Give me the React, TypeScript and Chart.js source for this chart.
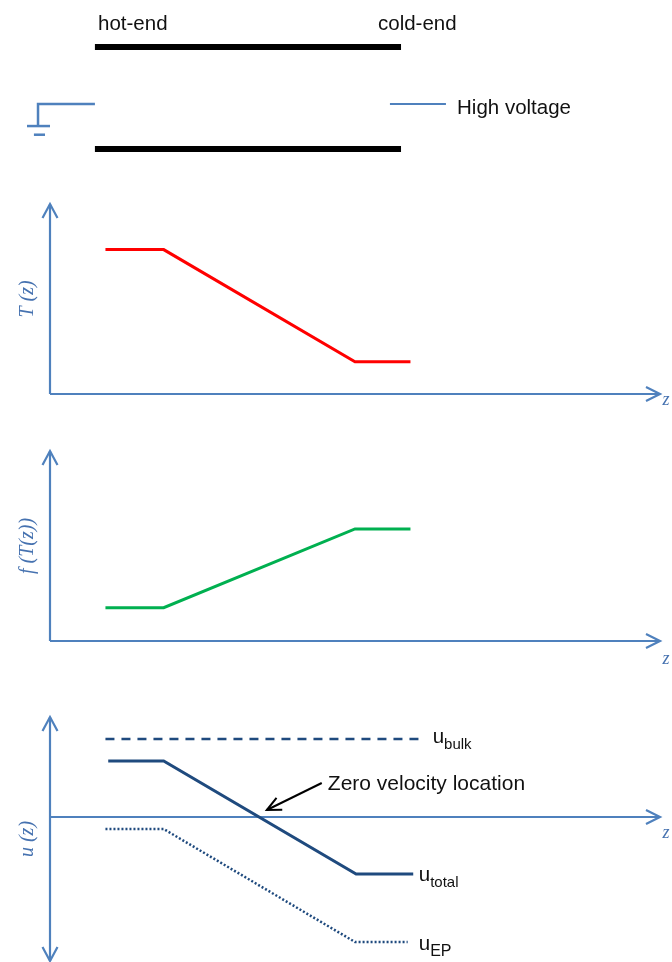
import React, { useEffect, useRef } from "react";
import { Chart, registerables } from "chart.js";

Chart.register(...registerables);

const AXIS_COLOR = "#4F81BD";
const LABEL_COLOR = "#4672B0";
const U_COLOR = "#1F4A7E";
const SANS = '"Liberation Sans", Arial, sans-serif';
const SERIF = '"Liberation Serif", "Times New Roman", serif';

// shared position axis z
const zAxisMax = 11;

// T(z)
const tempZ = [1, 2.05, 5.5, 6.5];
const tempValues = [7.6, 7.6, 1.7, 1.7];

// f(T(z))
const fZ = [1, 2.05, 5.5, 6.5];
const fValues = [1.75, 1.75, 5.9, 5.9];

// u(z)
const uBulkZ = [1, 6.7];
const uBulkValues = [3.9, 3.9];
const uTotalZ = [1.05, 2.05, 5.52, 6.55];
const uTotalValues = [2.8, 2.8, -2.85, -2.85];
const uEpZ = [1, 2.05, 5.5, 6.45];
const uEpValues = [-0.6, -0.6, -6.25, -6.25];
const zeroPointerZ = [4.9, 3.91];
const zeroPointerU = [1.7, 0.35];

// channel schematic (wall = 1 top, 0 bottom)
const wallZ = [0.81, 6.33];
const topWallY = [1, 1];
const bottomWallY = [0, 0];
const groundWireZ = [0.81, -0.216, -0.216];
const groundWireY = [0.441, 0.441, 0.225];
const groundPlateZ = [-0.415, 0];
const groundPlateY = [0.225, 0.225];
const groundPlate2Z = [-0.29, -0.09];
const groundPlate2Y = [0.14, 0.14];
const hvWireZ = [6.13, 7.14];
const hvWireY = [0.441, 0.441];

type Txt = {
  text: string;
  z: number;
  v: number;
  size: number;
  color: string;
  sub?: string;
  subSize?: number;
};

type Spec = {
  top: number;
  height: number;
  padTop: number;
  padBottom: number;
  yMin: number;
  yMax: number;
  datasets: any[];
  axes: "none" | "xy" | "xyBoth";
  yLabel?: string;
  zLabelDy?: number;
  texts: Txt[];
  pointer?: boolean;
};

function pts(xs: number[], ys: number[]) {
  return xs.map((x, i) => ({ x, y: ys[i] }));
}

function lineDs(xs: number[], ys: number[], color: string, width: number, dash: number[] = []) {
  return {
    data: pts(xs, ys),
    borderColor: color,
    backgroundColor: color,
    borderWidth: width,
    borderDash: dash,
    pointRadius: 0,
    fill: false,
    tension: 0,
    clip: false,
    borderCapStyle: "butt",
    borderJoinStyle: "miter",
  };
}

function arrowHead(ctx: CanvasRenderingContext2D, tx: number, ty: number, dx: number, dy: number, len: number, half: number) {
  const px = -dy;
  const py = dx;
  ctx.beginPath();
  ctx.moveTo(tx - dx * len + px * half, ty - dy * len + py * half);
  ctx.lineTo(tx, ty);
  ctx.lineTo(tx - dx * len - px * half, ty - dy * len - py * half);
  ctx.stroke();
}

function makeOverlay(spec: Spec) {
  return {
    id: "overlay",
    beforeDatasetsDraw(chart: any) {
      if (spec.axes === "none") return;
      const ctx: CanvasRenderingContext2D = chart.ctx;
      const xs = chart.scales.x;
      const ys = chart.scales.y;
      const x0 = xs.getPixelForValue(0);
      const x1 = xs.getPixelForValue(zAxisMax);
      const yZero = ys.getPixelForValue(0);
      const yTop = ys.getPixelForValue(spec.yMax);
      const yBot = ys.getPixelForValue(spec.yMin);
      ctx.save();
      ctx.strokeStyle = AXIS_COLOR;
      ctx.lineWidth = 2.2;
      ctx.lineCap = "butt";
      ctx.lineJoin = "miter";
      ctx.beginPath();
      ctx.moveTo(x0, yZero);
      ctx.lineTo(x1, yZero);
      ctx.stroke();
      arrowHead(ctx, x1, yZero, 1, 0, 14, 7);
      ctx.beginPath();
      ctx.moveTo(x0, yBot);
      ctx.lineTo(x0, yTop);
      ctx.stroke();
      arrowHead(ctx, x0, yTop, 0, -1, 14, 7.5);
      if (spec.axes === "xyBoth") arrowHead(ctx, x0, yBot, 0, 1, 14, 7.5);
      // labels
      ctx.fillStyle = LABEL_COLOR;
      ctx.font = `italic 18px ${SERIF}`;
      ctx.textAlign = "center";
      ctx.textBaseline = "middle";
      ctx.fillText("z", x1 + 6, yZero + (spec.zLabelDy || 6));
      if (spec.yLabel) {
        ctx.save();
        ctx.translate(x0 - 17, (yTop + yBot) / 2);
        ctx.rotate(-Math.PI / 2);
        ctx.font = `italic 20px ${SERIF}`;
        ctx.textBaseline = "alphabetic";
        ctx.fillText(spec.yLabel, 0, 0);
        ctx.restore();
      }
      ctx.restore();
    },
    afterDatasetsDraw(chart: any) {
      const ctx: CanvasRenderingContext2D = chart.ctx;
      const xs = chart.scales.x;
      const ys = chart.scales.y;
      ctx.save();
      ctx.textAlign = "left";
      ctx.textBaseline = "alphabetic";
      for (const t of spec.texts) {
        const px = xs.getPixelForValue(t.z);
        const py = ys.getPixelForValue(t.v);
        ctx.fillStyle = t.color;
        ctx.font = `${t.size}px ${SANS}`;
        ctx.fillText(t.text, px, py);
        if (t.sub) {
          const w = ctx.measureText(t.text).width;
          ctx.font = `${t.subSize || 15}px ${SANS}`;
          ctx.fillText(t.sub, px + w, py + 6);
        }
      }
      if (spec.pointer) {
        const sx = xs.getPixelForValue(zeroPointerZ[0]);
        const sy = ys.getPixelForValue(zeroPointerU[0]);
        const tx = xs.getPixelForValue(zeroPointerZ[1]);
        const ty = ys.getPixelForValue(zeroPointerU[1]);
        const L = Math.hypot(tx - sx, ty - sy);
        ctx.strokeStyle = "#000000";
        ctx.lineWidth = 2;
        arrowHead(ctx, tx, ty, (tx - sx) / L, (ty - sy) / L, 14, 6.5);
      }
      ctx.restore();
    },
  };
}

const specs: Spec[] = [
  {
    top: 0,
    height: 180,
    padTop: 47,
    padBottom: 31,
    yMin: 0,
    yMax: 1,
    axes: "none",
    datasets: [
      lineDs(wallZ, topWallY, "#000000", 6),
      lineDs(wallZ, bottomWallY, "#000000", 6),
      lineDs(groundWireZ, groundWireY, AXIS_COLOR, 2.5),
      lineDs(groundPlateZ, groundPlateY, AXIS_COLOR, 2.5),
      lineDs(groundPlate2Z, groundPlate2Y, AXIS_COLOR, 2.5),
      lineDs(hvWireZ, hvWireY, AXIS_COLOR, 2),
    ],
    texts: [
      { text: "hot-end", z: 0.866, v: 1.167, size: 20.5, color: "#111111" },
      { text: "cold-end", z: 5.915, v: 1.167, size: 20.5, color: "#111111" },
      { text: "High voltage", z: 7.34, v: 0.343, size: 20.5, color: "#111111" },
    ],
  },
  {
    top: 180,
    height: 240,
    padTop: 24,
    padBottom: 26,
    yMin: 0,
    yMax: 10,
    axes: "xy",
    yLabel: "T (z)",
    zLabelDy: 6,
    datasets: [lineDs(tempZ, tempValues, "#FF0000", 3)],
    texts: [],
  },
  {
    top: 420,
    height: 260,
    padTop: 31,
    padBottom: 39,
    yMin: 0,
    yMax: 10,
    axes: "xy",
    yLabel: "f (T(z))",
    zLabelDy: 18,
    datasets: [lineDs(fZ, fValues, "#00B050", 3)],
    texts: [],
  },
  {
    top: 680,
    height: 282,
    padTop: 37,
    padBottom: 1,
    yMin: -7.2,
    yMax: 5,
    axes: "xyBoth",
    yLabel: "u (z)",
    zLabelDy: 16,
    pointer: true,
    datasets: [
      lineDs(uBulkZ, uBulkValues, U_COLOR, 2.5, [9, 7]),
      lineDs(uTotalZ, uTotalValues, U_COLOR, 3),
      lineDs(uEpZ, uEpValues, U_COLOR, 2.5, [2, 2]),
      lineDs(zeroPointerZ, zeroPointerU, "#000000", 2),
    ],
    texts: [
      { text: "u", sub: "bulk", z: 6.9, v: 3.7, size: 20.5, subSize: 15, color: "#111111" },
      { text: "u", sub: "total", z: 6.65, v: -3.2, size: 20.5, subSize: 15, color: "#111111" },
      { text: "u", sub: "EP", z: 6.65, v: -6.65, size: 20.5, subSize: 16, color: "#111111" },
      { text: "Zero velocity location", z: 5.01, v: 1.35, size: 21, color: "#111111" },
    ],
  },
];

function Panel({ spec }: { spec: Spec }) {
  const ref = useRef<HTMLCanvasElement | null>(null);
  useEffect(() => {
    if (!ref.current) return;
    const chart = new Chart(ref.current, {
      type: "line",
      data: { datasets: spec.datasets as any },
      options: {
        responsive: false,
        animation: false,
        events: [],
        devicePixelRatio: 1,
        layout: { padding: { left: 50, right: 12, top: spec.padTop, bottom: spec.padBottom } },
        scales: {
          x: { type: "linear", min: 0, max: zAxisMax, display: false },
          y: { type: "linear", min: spec.yMin, max: spec.yMax, display: false },
        },
        plugins: { legend: { display: false }, tooltip: { enabled: false } },
      } as any,
      plugins: [makeOverlay(spec)],
    });
    return () => chart.destroy();
  }, [spec]);
  return (
    <canvas
      ref={ref}
      width={672}
      height={spec.height}
      style={{ position: "absolute", left: 0, top: spec.top, width: 672, height: spec.height, display: "block" }}
    />
  );
}

export default function App() {
  return (
    <div style={{ position: "absolute", left: 0, top: 0, width: 672, height: 962, background: "#ffffff", overflow: "hidden" }}>
      {specs.map((s, i) => (
        <Panel key={i} spec={s} />
      ))}
    </div>
  );
}
